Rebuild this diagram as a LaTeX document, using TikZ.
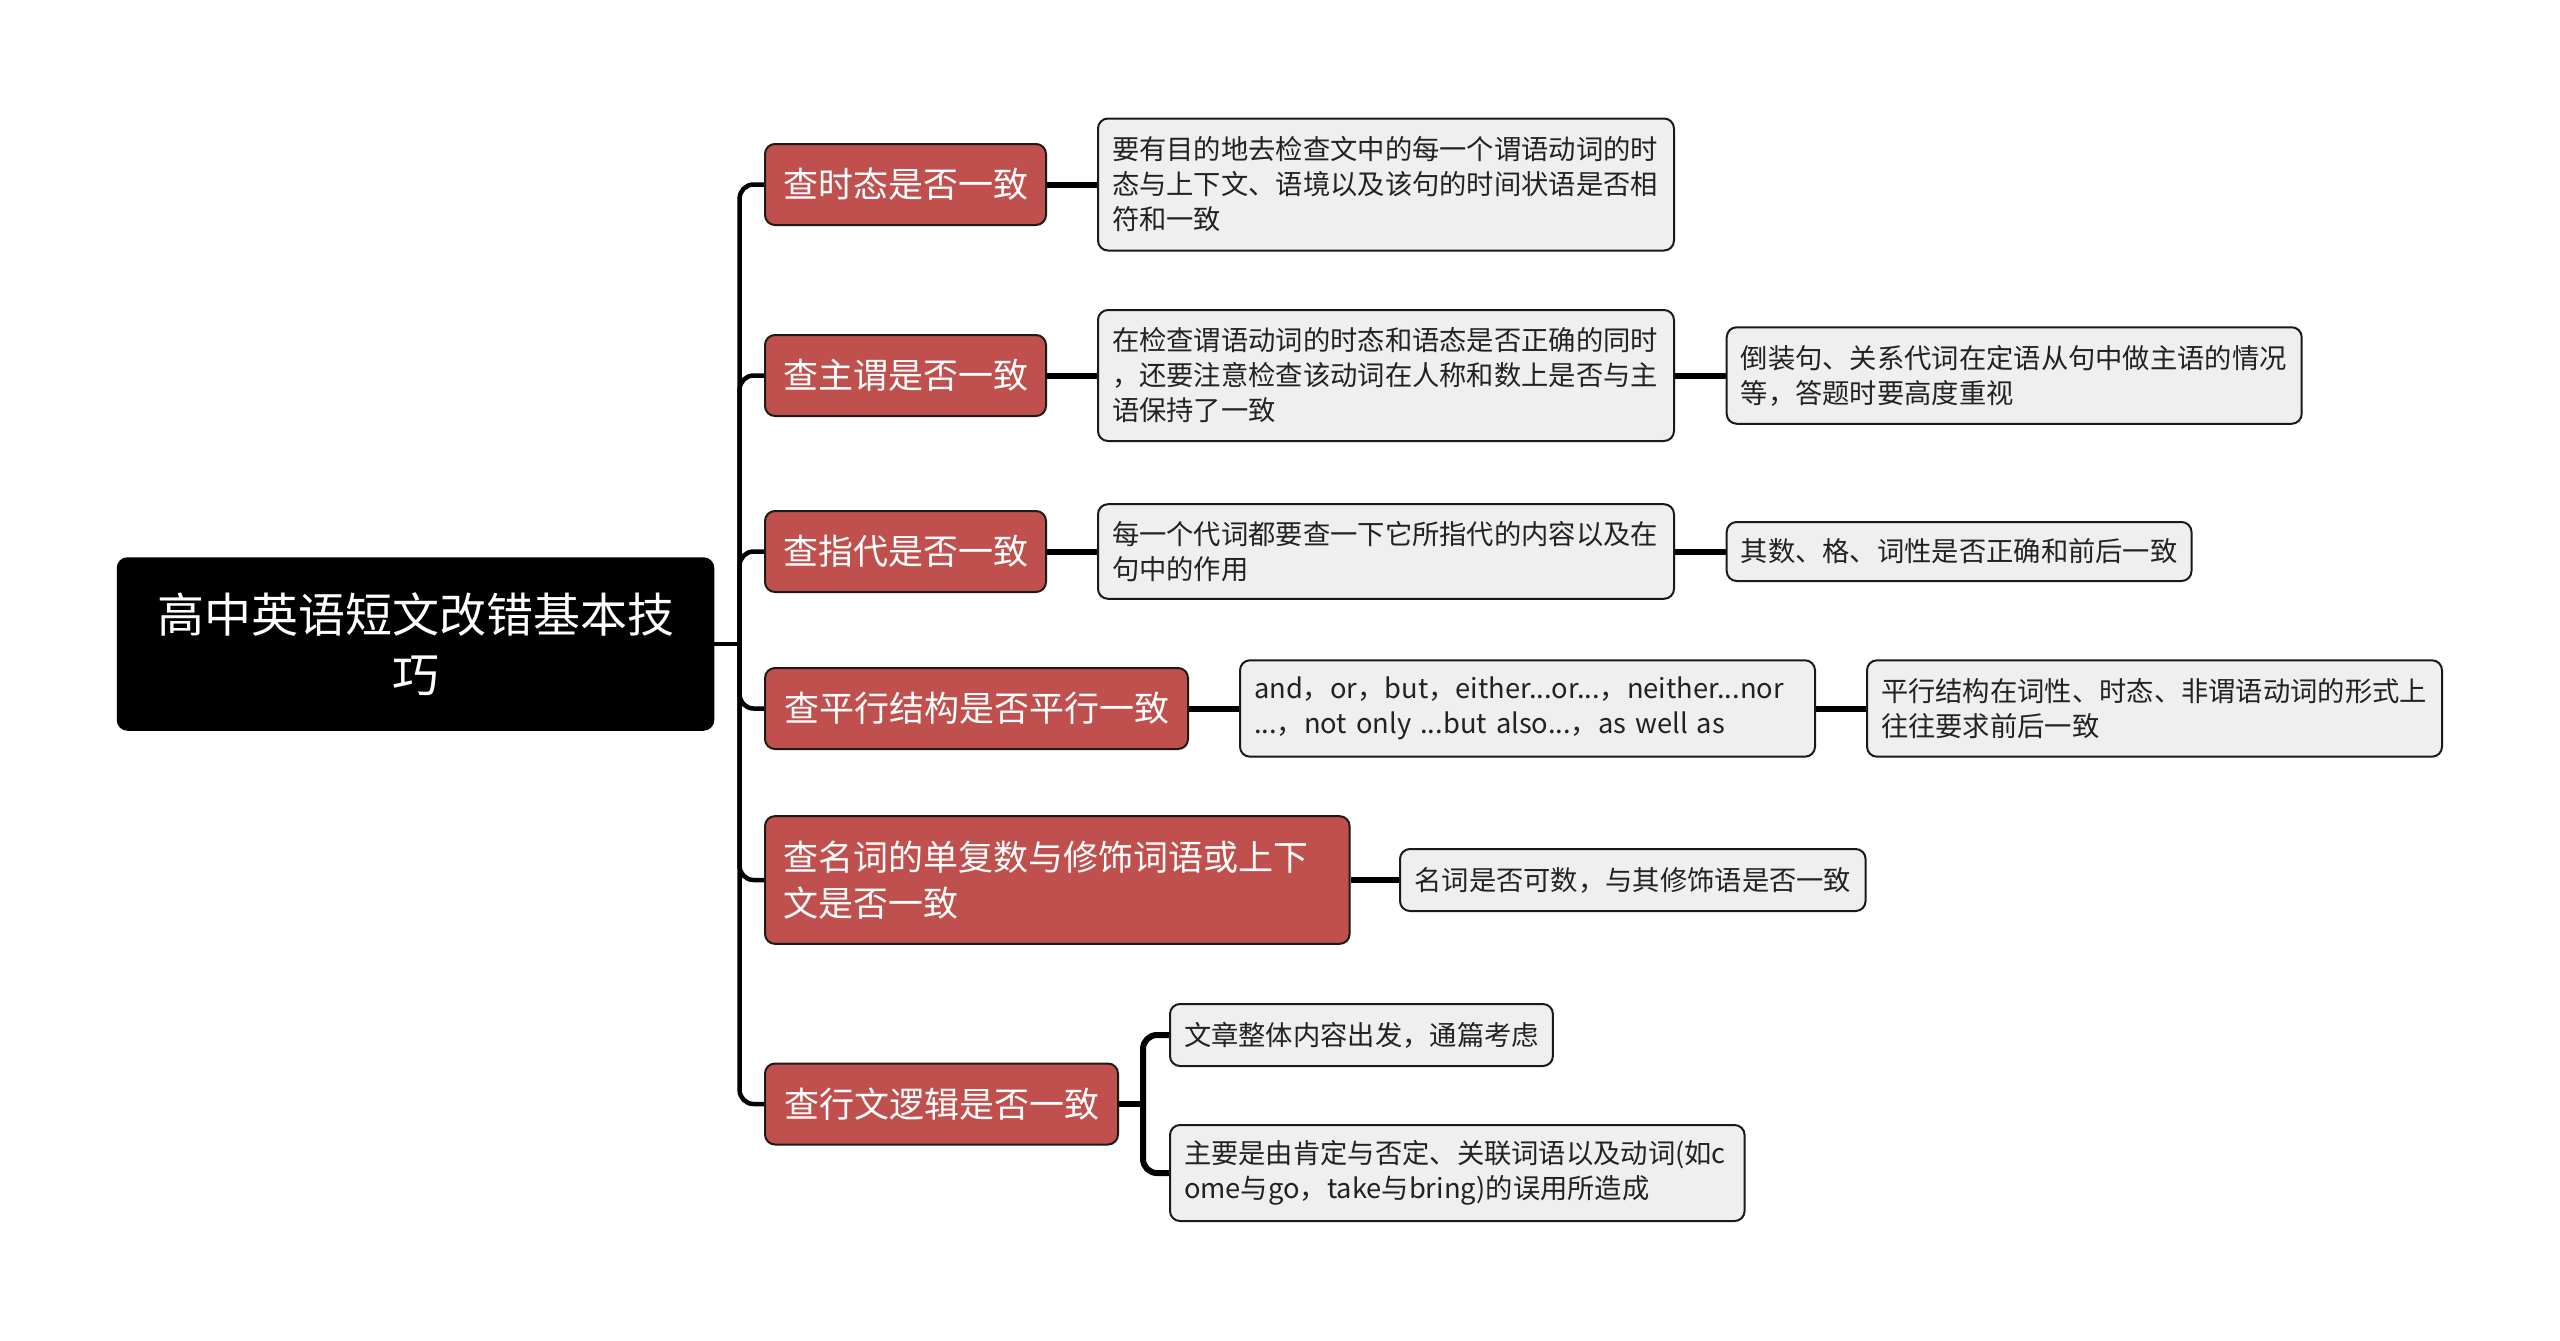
\documentclass[tikz,border=0pt]{standalone}
\usepackage{fontspec}
\setmainfont{Noto Sans CJK SC}
\usetikzlibrary{backgrounds}
\definecolor{l1red}{HTML}{C0504D}
\definecolor{l1border}{HTML}{1E1A1A}
\definecolor{l2gray}{HTML}{EFEFEF}
\definecolor{l2border}{HTML}{1A1A1A}
\definecolor{l2text}{HTML}{222222}
\begin{document}
\begin{tikzpicture}[x=1pt,y=-1pt,
  rootbox/.style={draw=black, fill=black, rounded corners=10pt, line width=1.5pt, text=white,
    font=\fontsize{47}{60}\selectfont, align=center, inner sep=0pt},
  l1box/.style={draw=l1border, fill=l1red, rounded corners=10pt, line width=2pt, text=white,
    font=\fontsize{35}{46}\selectfont, align=left, inner xsep=18pt, inner ysep=0pt,
    minimum height=81pt, anchor=west},
  l2box/.style={draw=l2border, fill=l2gray, rounded corners=10pt, line width=2pt, text=l2text,
    font=\fontsize{27.3}{35}\selectfont, align=left, inner xsep=14pt, inner ysep=0pt, anchor=west},
  trunk/.style={line width=4.5pt, draw=black, rounded corners=14pt},
  link/.style={line width=6pt, draw=black},
  branch/.style={line width=6pt, draw=black, rounded corners=14pt},
]
\useasboundingbox (0,0) rectangle (2560,1341);

\node[rootbox, minimum width=596pt, minimum height=172pt] (root) at (415.5,644) {高中英语短文改错基本技\\巧};

\node[l1box, minimum width=281pt] (a1) at (764,184.5) {查时态是否一致};
\node[l1box, minimum width=281pt] (a2) at (764,375.5) {查主谓是否一致};
\node[l1box, minimum width=281pt] (a3) at (764,551.5) {查指代是否一致};
\node[l1box, minimum width=423pt] (a4) at (764,708.5) {查平行结构是否平行一致};
\node[l1box, text width=548.6pt, minimum height=127.7pt] (a5) at (764,880) {查名词的单复数与修饰词语或上下\\文是否一致};
\node[l1box, minimum width=353pt] (a6) at (764,1104) {查行文逻辑是否一致};

\node[l2box, text width=548pt, minimum height=132pt] (b1) at (1097,184.5) {要有目的地去检查文中的每一个谓语动词的时\\态与上下文、语境以及该句的时间状语是否相\\符和一致};
\node[l2box, text width=548pt, minimum height=131pt] (b2) at (1097,375.5) {在检查谓语动词的时态和语态是否正确的同时\\，还要注意检查该动词在人称和数上是否与主\\语保持了一致};
\node[l2box, text width=547pt, minimum height=96.5pt] (c2) at (1725.7,375.5) {倒装句、关系代词在定语从句中做主语的情况\\等，答题时要高度重视};
\node[l2box, text width=548pt, minimum height=94.6pt] (b3) at (1097,551.5) {每一个代词都要查一下它所指代的内容以及在\\句中的作用};
\node[l2box, minimum width=464pt, minimum height=59pt] (c3) at (1725.7,551.5) {其数、格、词性是否正确和前后一致};
\node[l2box, text width=547pt, minimum height=96.4pt] (b4) at (1239,708.5) {and，or，but，either...or...，neither...nor\\...，not only ...but also...，as well as};
\node[l2box, text width=547pt, minimum height=96.4pt] (c4) at (1866,708.5) {平行结构在词性、时态、非谓语动词的形式上\\往往要求前后一致};
\node[l2box, minimum width=465.6pt, minimum height=62pt] (b5) at (1399,880) {名词是否可数，与其修饰语是否一致};
\node[l2box, minimum width=382pt, minimum height=62pt] (b6) at (1169,1035) {文章整体内容出发，通篇考虑};
\node[l2box, text width=546.6pt, minimum height=96pt] (c6) at (1169,1173) {主要是由肯定与否定、关联词语以及动词(如c\\ome与go，take与bring)的误用所造成};

\begin{scope}[on background layer]
\fill[white] (0,0) rectangle (2560,1341);
\coordinate (j) at (739.6,644);
\draw[trunk] (root.east) -- (j);
\foreach \n in {a1,a2,a3,a4,a5,a6} \draw[trunk] (j) |- (\n.west);
\draw[link] (a1.east) -- (b1.west);
\draw[link] (a2.east) -- (b2.west);
\draw[link] (b2.east) -- (c2.west);
\draw[link] (a3.east) -- (b3.west);
\draw[link] (b3.east) -- (c3.west);
\draw[link] (a4.east) -- (b4.west);
\draw[link] (b4.east) -- (c4.west);
\draw[link] (a5.east) -- (b5.west);
\coordinate (k) at (1143,1104);
\draw[link] (a6.east) -- (k);
\draw[branch] (k) |- (b6.west);
\draw[branch] (k) |- (c6.west);
\end{scope}
\end{tikzpicture}
\end{document}
